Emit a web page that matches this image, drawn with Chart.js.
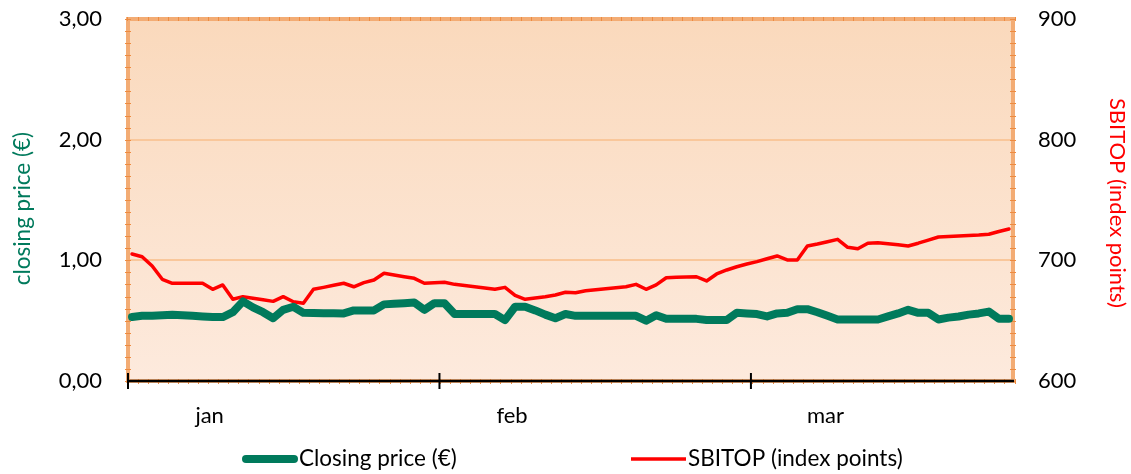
<!DOCTYPE html>
<html><head><meta charset="utf-8">
<script src="https://cdn.jsdelivr.net/npm/chart.js@4.4.1/dist/chart.umd.min.js"></script>
<style>html,body{margin:0;padding:0;background:#fff;}canvas{display:block;}</style>
</head><body>
<canvas id="c" width="1131" height="474"></canvas>
<script>
// ---- data ----
const closingPrice = [
  0.53,0.54,0.54,0.545,0.55,0.545,0.54,0.535,0.53,0.53,
  0.57,0.66,0.61,0.57,0.52,0.59,0.615,0.565,0.563,0.562,
  0.561,0.56,0.585,0.585,0.585,0.635,0.64,0.645,0.65,0.59,
  0.645,0.645,0.555,0.555,0.555,0.555,0.555,0.505,0.615,0.615,
  0.585,0.55,0.52,0.555,0.54,0.54,0.54,0.54,0.54,0.54,
  0.54,0.50,0.545,0.515,0.515,0.515,0.515,0.505,0.505,0.505,
  0.565,0.56,0.555,0.535,0.56,0.565,0.595,0.595,0.57,0.54,
  0.51,0.51,0.51,0.51,0.51,0.535,0.56,0.59,0.565,0.565,
  0.51,0.525,0.535,0.55,0.56,0.575,0.515,0.515
];
const sbitop = [
  705.2,703.0,695.3,684.3,681.0,681.0,681.0,681.0,676.0,679.6,
  667.7,669.9,668.6,667.3,666.0,669.9,665.7,664.4,676.0,677.6,
  679.3,681.0,678.1,681.5,683.7,689.3,687.8,686.4,685.1,681.0,
  681.4,681.8,680.1,679.1,678.1,677.1,676.0,677.6,670.9,667.7,
  668.8,669.9,671.3,673.5,673.2,674.8,675.7,676.5,677.3,678.1,
  680.1,676.0,679.6,685.6,685.9,686.2,686.4,682.9,688.7,692.0,
  694.7,697.0,698.9,701.3,703.6,700.3,700.3,711.9,713.5,715.4,
  717.4,710.8,709.6,714.1,714.6,713.8,712.9,711.9,714.2,716.8,
  719.3,719.8,720.2,720.6,721.0,721.6,723.9,726.0
];
const monthLabels = ['jan', 'feb', 'mar'];
const monthLabelAt = [7.7, 37.7, 68.8];      // trading-day index where the month label sits
const monthStartAt = [-0.4, 30.5, 61.4];     // trading-day index of month boundary tick marks
const priceRange = [0, 3];
const indexRange = [600, 900];
const seriesNames = ['Closing price (€)', 'SBITOP (index points)'];

const GREEN = '#007A5C', RED = '#FF0000', FONT = 'Lato';

const frame = {
  id: 'frame',
  beforeDraw(chart) {
    const {ctx, chartArea: a} = chart;
    const g = ctx.createLinearGradient(0, a.top, 0, a.bottom);
    g.addColorStop(0, '#FAD9BC');
    g.addColorStop(1, '#FDEADD');
    ctx.save();
    ctx.fillStyle = g;
    ctx.fillRect(a.left, a.top, a.right - a.left, a.bottom - a.top);
    ctx.restore();
  },
  beforeDatasetsDraw(chart) {
    const {ctx, chartArea: a, scales} = chart;
    ctx.save();
    ctx.strokeStyle = '#F3AC74';
    ctx.lineWidth = 4;
    ctx.strokeRect(a.left, a.top, a.right - a.left, a.bottom - a.top);
    ctx.strokeStyle = '#EE8B40';
    ctx.lineWidth = 1;
    const ys = scales.y;
    for (let v = priceRange[0]; v <= priceRange[1] + 1e-9; v += 0.1) {
      const py = Math.round(ys.getPixelForValue(v)) + 0.5;
      ctx.beginPath();
      ctx.moveTo(a.left - 3, py); ctx.lineTo(a.left + 3, py);
      ctx.moveTo(a.right - 3, py); ctx.lineTo(a.right + 3, py);
      ctx.stroke();
    }
    const xs = scales.x;
    for (let i = 0; i < closingPrice.length + 1; i++) {
      const px = Math.round(xs.getPixelForValue(i - 0.45)) + 0.5;
      ctx.beginPath();
      ctx.moveTo(px, a.top - 2); ctx.lineTo(px, a.top + 2);
      ctx.moveTo(px, a.bottom - 2); ctx.lineTo(px, a.bottom + 3);
      ctx.stroke();
    }
    ctx.strokeStyle = '#000';
    ctx.lineWidth = 2.5;
    ctx.beginPath();
    ctx.moveTo(a.left, a.bottom); ctx.lineTo(a.right + 1, a.bottom);
    ctx.stroke();
    ctx.lineWidth = 2;
    monthStartAt.forEach(v => {
      const px = xs.getPixelForValue(v);
      ctx.beginPath();
      ctx.moveTo(px, a.bottom - 8); ctx.lineTo(px, a.bottom + 8);
      ctx.stroke();
    });
    ctx.restore();
  },
  afterDraw(chart) {
    const ctx = chart.ctx;
    ctx.save();
    const ly = 459;
    ctx.lineCap = 'round';
    ctx.strokeStyle = GREEN; ctx.lineWidth = 8;
    ctx.beginPath(); ctx.moveTo(246, ly); ctx.lineTo(294, ly); ctx.stroke();
    ctx.strokeStyle = RED; ctx.lineWidth = 3.5; ctx.lineCap = 'butt';
    ctx.beginPath(); ctx.moveTo(631, ly); ctx.lineTo(686, ly); ctx.stroke();
    ctx.fillStyle = '#000';
    ctx.font = '22.5px ' + FONT;
    ctx.textBaseline = 'middle';
    ctx.fillText(seriesNames[0], 299, ly);
    ctx.fillText(seriesNames[1], 688, ly);
    ctx.restore();
  }
};

const toPoints = arr => arr.map((v, i) => ({x: i, y: v}));
const fitVertical = w => s => { s.width = w; s.paddingTop = 0; s.paddingBottom = 0; };

new Chart(document.getElementById('c'), {
  type: 'line',
  data: {
    datasets: [
      {label: seriesNames[0], data: toPoints(closingPrice), yAxisID: 'y',
       borderColor: GREEN, borderWidth: 8, borderCapStyle: 'round', borderJoinStyle: 'round',
       pointRadius: 0, tension: 0, fill: false},
      {label: seriesNames[1], data: toPoints(sbitop), yAxisID: 'y1',
       borderColor: RED, borderWidth: 3.5, borderJoinStyle: 'round', borderCapStyle: 'round',
       pointRadius: 0, tension: 0, fill: false}
    ]
  },
  options: {
    responsive: false,
    animation: false,
    devicePixelRatio: 1,
    layout: {padding: {top: 19, bottom: 0, left: 0, right: 0}},
    plugins: {legend: {display: false}, tooltip: {enabled: false}},
    scales: {
      x: {
        type: 'linear', position: 'bottom',
        min: -0.4, max: 87.4,
        afterBuildTicks: s => { s.ticks = monthLabelAt.map(v => ({value: v})); },
        afterFit: s => { s.height = 93; s.paddingLeft = 0; s.paddingRight = 0; },
        ticks: {
          autoSkip: false, maxRotation: 0, padding: 22,
          color: '#000', font: {family: FONT, size: 22},
          callback: (v, i) => monthLabels[i]
        },
        grid: {display: false, drawTicks: false},
        border: {display: false}
      },
      y: {
        position: 'left', min: priceRange[0], max: priceRange[1],
        afterFit: fitVertical(128),
        ticks: {
          stepSize: 1, padding: 26, color: '#000', font: {family: FONT, size: 22},
          callback: v => v.toFixed(2).replace('.', ',')
        },
        grid: {
          drawTicks: false, lineWidth: 2,
          color: c => (c.tick && c.tick.value > priceRange[0] && c.tick.value < priceRange[1]) ? '#F9C79B' : 'rgba(0,0,0,0)'
        },
        border: {display: false},
        title: {display: true, text: 'closing price (€)\u00A0\u00A0\u00A0', color: GREEN,
                font: {family: FONT, size: 22.5}, padding: {top: 9, bottom: 0}}
      },
      y1: {
        position: 'right', min: indexRange[0], max: indexRange[1],
        afterFit: fitVertical(118),
        ticks: {stepSize: 100, padding: 25, color: '#000', font: {family: FONT, size: 22}},
        grid: {drawOnChartArea: false, drawTicks: false},
        border: {display: false},
        title: {display: true, text: '\u00A0SBITOP (index points)', color: RED,
                font: {family: FONT, size: 22}, padding: {top: 1, bottom: 0}}
      }
    }
  },
  plugins: [frame]
});
</script>
</body></html>
